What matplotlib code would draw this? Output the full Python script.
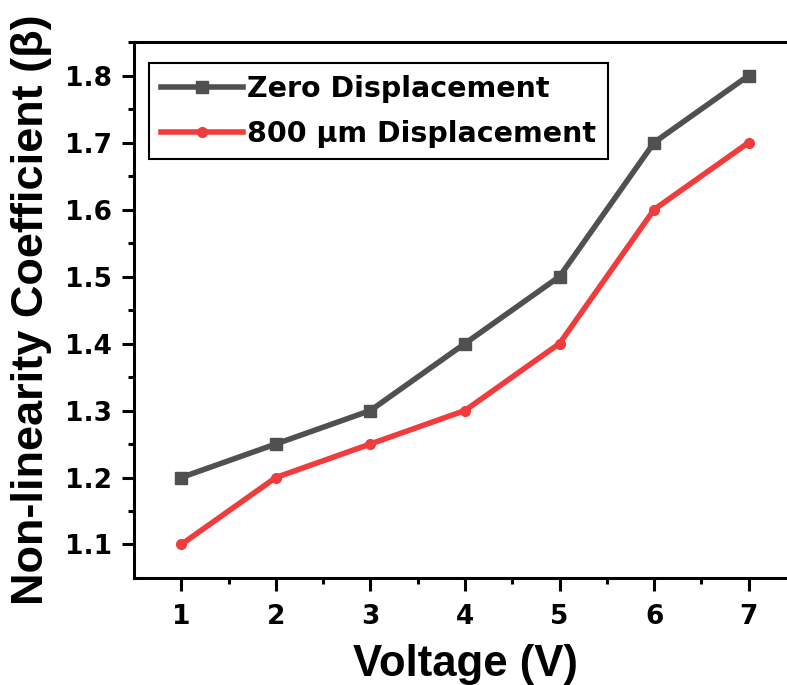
import matplotlib.pyplot as plt
import numpy as np

voltage = [1, 2, 3, 4, 5, 6, 7]
zero_disp = [1.2, 1.25, 1.3, 1.4, 1.5, 1.7, 1.8]
disp_800 = [1.1, 1.2, 1.25, 1.3, 1.4, 1.6, 1.7]

plt.rcParams['font.family'] = ['Liberation Sans', 'DejaVu Sans']

fig = plt.figure(figsize=(7.87, 6.85), dpi=100)
ax = fig.add_axes([134/787, 1-578/685, (796-134)/787, (578-42)/685])

ax.plot(voltage, zero_disp, color='#505050', lw=4, marker='s', ms=8, label='Zero Displacement')
ax.plot(voltage, disp_800, color='#f03c3c', lw=4, marker='o', ms=7, label='800 µm Displacement')

ax.set_xlim(0.5, 7.5)
ax.set_ylim(1.05, 1.85)
ax.set_xticks(voltage)
ax.set_xticks(np.arange(1.5, 7.5, 1), minor=True)
ax.set_yticks([1.1, 1.2, 1.3, 1.4, 1.5, 1.6, 1.7, 1.8])
ax.set_yticks(np.arange(1.15, 1.85, 0.1), minor=True)
ax.tick_params(which='major', direction='out', length=9, width=2.2,
               labelsize=19, labelfontfamily='DejaVu Sans')
ax.tick_params(axis='x', which='major', pad=10)
ax.tick_params(axis='y', which='major', pad=7)
ax.tick_params(which='minor', direction='out', length=4.5, width=2.2)
plt.setp(ax.get_xticklabels() + ax.get_yticklabels(), fontweight='bold')
for s in ax.spines.values():
    s.set_linewidth(2.2)
ax.spines['right'].set_visible(False)

ax.set_xlabel('Voltage (V)', fontsize=31.5, fontweight='bold', labelpad=10)
ax.set_ylabel('Non-linearity Coefficient (β)', fontsize=32.5, fontweight='bold', labelpad=9)

leg = ax.legend(loc='upper left', bbox_to_anchor=(0.023, 0.96), fancybox=False, edgecolor='black',
                framealpha=1, prop={'family': 'DejaVu Sans', 'weight': 'bold', 'size': 20.5},
                handlelength=2.9, handletextpad=0.15, borderpad=0.4, labelspacing=0.6,
                borderaxespad=0)
leg.get_frame().set_linewidth(1.5)

fig.savefig('out.png', dpi=100)
